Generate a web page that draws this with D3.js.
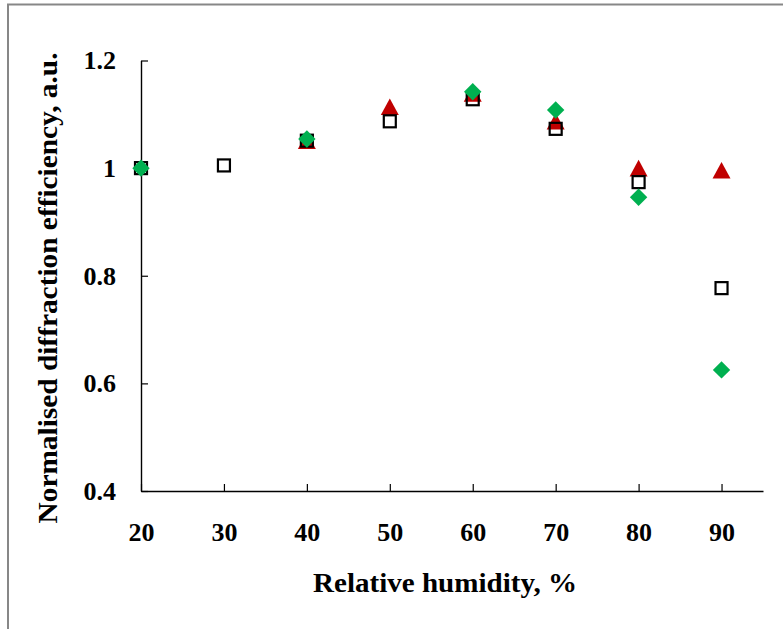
<!DOCTYPE html>
<html>
<head>
<meta charset="utf-8">
<script src="https://cdn.jsdelivr.net/npm/d3@7"></script>
<style>
  html, body { margin: 0; padding: 0; background: #fff; }
  svg { display: block; }
  text { font-family: "Liberation Serif", "Times New Roman", serif; font-weight: bold; fill: #000; }
</style>
</head>
<body>
<svg id="chart" width="783" height="629"></svg>
<script>
// Relative humidity levels (%)
const humidity = [20, 30, 40, 50, 60, 70, 80, 90];

// Normalised diffraction efficiency per sample series (null = not measured)
const seriesSquare   = [1.000, 1.005, 1.051, 1.087, 1.128, 1.073, 0.974, 0.777];
const seriesTriangle = [null,  null,  1.051, 1.114, 1.139, 1.087, 1.000, 0.996];
const seriesDiamond  = [1.000, null,  1.054, null,  1.142, 1.108, 0.946, 0.625];

const xTicks = [20, 30, 40, 50, 60, 70, 80, 90];
const yTicks = [0.4, 0.6, 0.8, 1.0, 1.2];

const xTitle = "Relative humidity, %";
const yTitle = "Normalised diffraction efficiency, a.u.";

const svg = d3.select("#chart");

// outer frame
svg.append("rect")
  .attr("x", 8).attr("y", 4.5)
  .attr("width", 820).attr("height", 660)
  .attr("fill", "none").attr("stroke", "#878787").attr("stroke-width", 2);

const x = d3.scaleLinear().domain([20, 95]).range([141, 763]);
const y = d3.scaleLinear().domain([0.4, 1.2]).range([491, 60.5]);

const fmtY = d => (d === 1 ? "1" : d3.format(".1f")(d));

// y axis
const gy = svg.append("g")
  .attr("transform", "translate(141,0)")
  .call(d3.axisLeft(y).tickValues(yTicks).tickFormat(fmtY)
        .tickSizeInner(-7).tickSizeOuter(0).tickPadding(25));
// x axis
const gx = svg.append("g")
  .attr("transform", "translate(0,491)")
  .call(d3.axisBottom(x).tickValues(xTicks).tickFormat(d3.format("d"))
        .tickSizeInner(-7).tickSizeOuter(0).tickPadding(32));

[gx, gy].forEach(g => {
  g.select(".domain").attr("stroke", "#000").attr("stroke-width", 1.4);
  g.selectAll(".tick line").attr("stroke", "#000").attr("stroke-width", 1.2);
  g.selectAll(".tick text")
    .attr("fill", "#000")
    .style("font-family", "'Liberation Serif', 'Times New Roman', serif")
    .style("font-weight", "bold")
    .style("font-size", "26px");
});

// axis titles
svg.append("text")
  .attr("x", 445).attr("y", 592)
  .attr("text-anchor", "middle")
  .attr("textLength", 264).attr("lengthAdjust", "spacingAndGlyphs")
  .style("font-size", "27px")
  .text(xTitle);

svg.append("text")
  .attr("transform", "translate(57,288) rotate(-90)")
  .attr("text-anchor", "middle")
  .attr("textLength", 471).attr("lengthAdjust", "spacingAndGlyphs")
  .style("font-size", "27px")
  .text(yTitle);

function points(values) {
  return humidity.map((h, i) => ({ h, v: values[i] })).filter(d => d.v !== null);
}

const plot = svg.append("g");

// triangles (drawn first, underneath)
plot.selectAll("path.tri")
  .data(points(seriesTriangle))
  .join("path")
  .attr("class", "tri")
  .attr("transform", d => `translate(${x(d.h)},${y(d.v)})`)
  .attr("d", "M0,-8.3L9,8.3L-9,8.3Z")
  .attr("fill", "#C00000");

// open squares
plot.selectAll("rect.sq")
  .data(points(seriesSquare))
  .join("rect")
  .attr("class", "sq")
  .attr("x", d => x(d.h) - 6)
  .attr("y", d => y(d.v) - 6)
  .attr("width", 12).attr("height", 12)
  .attr("fill", "none")
  .attr("stroke", "#000")
  .attr("stroke-width", 2.2);

// diamonds (on top)
plot.selectAll("path.dia")
  .data(points(seriesDiamond))
  .join("path")
  .attr("class", "dia")
  .attr("transform", d => `translate(${x(d.h)},${y(d.v)})`)
  .attr("d", "M0,-8.7L8.7,0L0,8.7L-8.7,0Z")
  .attr("fill", "#00B050");
</script>
</body>
</html>
